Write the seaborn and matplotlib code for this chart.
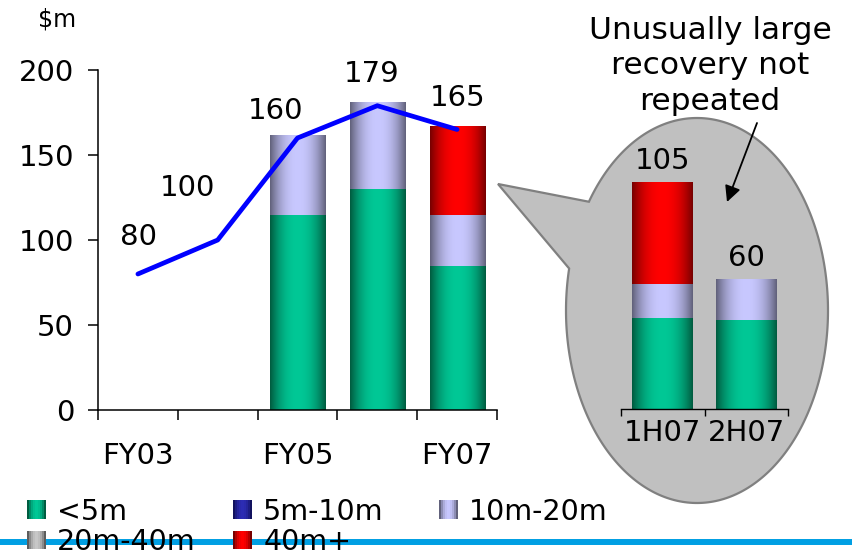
import numpy as np
import pandas as pd
import seaborn as sns
import matplotlib.pyplot as plt
from matplotlib.patches import Polygon, Patch, Rectangle
from matplotlib.legend_handler import HandlerBase
from matplotlib.colors import to_rgb

# --- data -------------------------------------------------------------
years = ['FY03', 'FY04', 'FY05', 'FY06', 'FY07']
line_total = [80, 100, 160, 179, 165]

bar_years = ['FY05', 'FY06', 'FY07']
lt5 = [115, 130, 85]
m10_20 = [47, 51, 30]
m40_plus = [0, 0, 52]

halves = ['1H07', '2H07']
half_totals = [105, 60]
half_lt5 = [42, 41]
half_m10_20 = [16, 19]
half_m40_plus = [47, 0]

series = ['<5m', '5m-10m', '10m-20m', '20m-40m', '40m+']

# edge / centre colour of the shaded bars
shades = {
    '<5m': ('#005c40', '#00c896'),
    '5m-10m': ('#12125e', '#2c2cb4'),
    '10m-20m': ('#62627c', '#c8c8ff'),
    '20m-40m': ('#5c5c5c', '#c8c8c8'),
    '40m+': ('#780000', '#ff0000'),
}

# label offsets (pixels) for the line values
line_offsets = [(1, 37), (-30, 52), (-22, 27), (-6, 32), (1, 32)]

sns.set_style('white', {'text.color': 'black', 'xtick.color': 'black',
                        'ytick.color': 'black', 'axes.edgecolor': 'black'})
plt.rcParams['font.family'] = ['DejaVu Sans']
plt.rcParams['axes.linewidth'] = 1.1


def grad(edge, centre, n=64):
    t = np.linspace(0, 1, n)
    w = 1 - np.abs(2 * t - 1) ** 2.2
    e, c = np.array(to_rgb(edge)), np.array(to_rgb(centre))
    return e + (c - e) * w[:, None]


def shade(ax, patch, key, z):
    x0, y0 = patch.get_x(), patch.get_y()
    w, h = patch.get_width(), patch.get_height()
    img = grad(*shades[key])[None, :, :]
    im = ax.imshow(img, extent=[x0, x0 + w, y0, y0 + h], aspect='auto',
                   interpolation='bilinear', zorder=z)
    im.set_clip_path(patch)
    patch.set_visible(False)


def stacked(ax, cats, order, layers, width):
    cum = np.cumsum([vals for vals, _ in layers], axis=0)
    z = 2
    for k in range(len(layers) - 1, -1, -1):
        vals, key = layers[k]
        keep = [i for i, v in enumerate(vals) if v > 0]
        df = pd.DataFrame({'cat': [cats[i] for i in keep], 'top': cum[k][keep]})
        n0 = len(ax.patches)
        sns.barplot(data=df, x='cat', y='top', order=order, width=width,
                    color=shades[key][1], errorbar=None, saturation=1, ax=ax)
        for p in ax.patches[n0:]:
            shade(ax, p, key, z)
        z += 0.1


class GradHandler(HandlerBase):
    def create_artists(self, legend, orig_handle, xdescent, ydescent,
                       width, height, fontsize, trans):
        cols = grad(*orig_handle.shade_key, n=10)
        n = len(cols)
        return [Rectangle((-xdescent + width * i / n, -ydescent), width / n * 1.05, height,
                          facecolor=cols[i], edgecolor='none', transform=trans)
                for i in range(n)]


fig = plt.figure(figsize=(8.52, 5.51), dpi=100)

# background canvas in pixel coordinates (callout, notes, rule)
bg = fig.add_axes([0, 0, 1, 1], zorder=0)
bg.set_xlim(0, 852)
bg.set_ylim(551, 0)
bg.axis('off')

cx, cy, rx, ry = 697, 310.5, 131, 192.5
t = np.radians(np.linspace(214.4, 552.6, 300))
arc = np.column_stack([cx + rx * np.cos(t), cy + ry * np.sin(t)])
tip = np.array([[498, 184]])
bg.add_patch(Polygon(np.vstack([tip, arc]), closed=True, facecolor='#c0c0c0',
                     edgecolor='#808080', lw=1.6, joinstyle='miter'))
bg.axhline(542, color='#009fe3', lw=4.3, zorder=0.5)
bg.text(57, 19, '$m', ha='center', va='center', fontsize=17)
bg.text(710, 66, 'Unusually large\nrecovery not\nrepeated', ha='center',
        va='center', fontsize=22.5, linespacing=1.3, zorder=5)
bg.annotate('', xy=(727, 202), xytext=(757, 123),
            arrowprops=dict(arrowstyle='-|>', color='black', lw=1.3,
                            mutation_scale=24, shrinkA=0, shrinkB=0))

# --- main chart -------------------------------------------------------
ax = fig.add_axes([98 / 852, 141 / 551, 399 / 852, 340 / 551], zorder=1)
ax.set_facecolor('none')
stacked(ax, bar_years, years,
        [(lt5, '<5m'), (m10_20, '10m-20m'), (m40_plus, '40m+')], 0.69)
sns.pointplot(x=years, y=line_total, order=years, color='#0000ff', markers='',
              errorbar=None, linewidth=3.4, zorder=10, ax=ax)
for i, v in enumerate(line_total):
    ax.annotate(str(v), (i, v), xytext=line_offsets[i], textcoords='offset pixels',
                ha='center', va='center', fontsize=21, annotation_clip=False)

ax.set_xlim(-0.5, 4.5)
ax.set_ylim(0, 200)
ax.set_xlabel('')
ax.set_ylabel('')
ax.set_xticks(range(len(years)))
ax.set_xticklabels([y if i % 2 == 0 else '' for i, y in enumerate(years)])
ax.set_xticks(np.arange(-0.5, len(years), 1), minor=True)
ax.set_yticks([0, 50, 100, 150, 200])
ax.tick_params(axis='x', which='major', length=0, pad=23, labelsize=21)
ax.tick_params(axis='x', which='minor', length=7.2, width=1.1, direction='out')
ax.tick_params(axis='y', length=7.2, width=1.1, direction='out', pad=10, labelsize=21)
ax.tick_params(bottom=True, left=True, which='both')
sns.despine(ax=ax)

# --- half-year inset -------------------------------------------------
ins = fig.add_axes([621 / 852, 142 / 551, 167 / 852, 237.6 / 551], zorder=2)
ins.set_facecolor('none')
stacked(ins, halves, halves,
        [(half_lt5, '<5m'), (half_m10_20, '10m-20m'), (half_m40_plus, '40m+')], 0.73)
for i, v in enumerate(half_totals):
    top = half_lt5[i] + half_m10_20[i] + half_m40_plus[i]
    ins.annotate(str(v), (i, top), xytext=(0, 21), textcoords='offset pixels',
                 ha='center', va='center', fontsize=21, annotation_clip=False)
ins.set_xlim(-0.5, 1.5)
ins.set_ylim(0, 110)
ins.set_xlabel('')
ins.set_ylabel('')
ins.set_yticks([])
ins.set_xticks(range(len(halves)))
ins.set_xticklabels(halves)
ins.set_xticks(np.arange(-0.5, len(halves), 1), minor=True)
ins.tick_params(axis='x', which='major', length=0, pad=7, labelsize=21)
ins.tick_params(axis='x', which='minor', length=5, width=1, direction='out', bottom=True)
sns.despine(ax=ins, left=True)
ins.spines['bottom'].set_linewidth(1)

# --- legend (three fixed columns) ------------------------------------
handles = {}
for name in series:
    h = Patch(label=name)
    h.shade_key = shades[name]
    handles[name] = h
columns = [(27, ['<5m', '20m-40m']), (233, ['5m-10m', '40m+']), (439, ['10m-20m'])]
for x0, names in columns:
    leg = fig.legend(handles=[handles[n] for n in names], loc='upper left',
                     bbox_to_anchor=(x0 / 852, 1 - 497.5 / 551), frameon=False,
                     fontsize=20.5, handlelength=0.66, handleheight=0.62,
                     handletextpad=0.4, labelspacing=0.08, borderpad=0,
                     borderaxespad=0, handler_map={Patch: GradHandler()})
    leg.set_zorder(6)

fig.savefig('out.png', dpi=100)
